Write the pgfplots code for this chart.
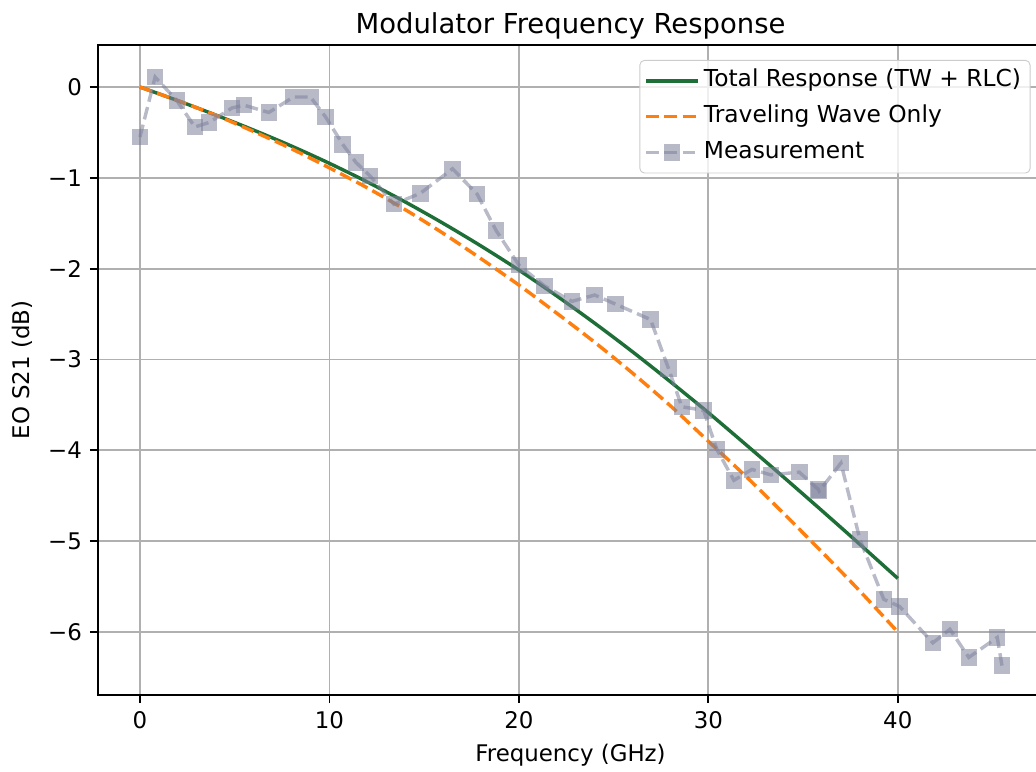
\documentclass[border=0pt]{standalone}
\usepackage{fontspec}
\setmainfont{DejaVu Sans}
\usepackage{pgfplots}
\pgfplotsset{compat=1.18}

\definecolor{twcol}{RGB}{255,127,14}
\definecolor{totcol}{RGB}{30,110,55}
\definecolor{meascol}{RGB}{125,129,155}
\definecolor{gridcol}{RGB}{176,176,176}
\definecolor{legcol}{RGB}{204,204,204}

\begin{document}
\begin{tikzpicture}
\begin{axis}[
    at={(0,0)}, anchor=south west,
    scale only axis,
    width=413pt, height=284pt,
    xmin=-2.218, xmax=47.67,
    ymin=-6.694, ymax=0.462,
    xtick={0,10,20,30,40},
    ytick={-6,-5,-4,-3,-2,-1,0},
    yticklabels={−6,−5,−4,−3,−2,−1,0},
    xtick pos=bottom, ytick pos=left,
    tick align=outside,
    major tick length=3.5pt,
    tick style={black, line width=0.8pt},
    axis line style={line width=0.8pt},
    grid=major,
    grid style={gridcol, line width=0.8pt},
    ticklabel style={font=\fontsize{10}{12}\selectfont},
    /pgf/number format/assume math mode=true,
    title={Modulator Frequency Response},
    title style={font=\fontsize{12}{14}\selectfont, at={(0.5,1)}, anchor=base, yshift=-1pt},
    xlabel={Frequency (GHz)},
    ylabel={EO S21 (dB)},
    label style={font=\fontsize{10}{12}\selectfont},
    legend cell align=left,
    legend style={
        at={(1,1)}, anchor=north east, xshift=-5.5pt, yshift=-6.5pt,
        draw=legcol, rounded corners=2pt, fill=white, fill opacity=0.8, text opacity=1,
        font=\fontsize{10.2}{12}\selectfont,
        nodes={inner sep=2pt, text height=7.5pt, text depth=2.5pt},
        row sep=1.6pt, inner xsep=2pt, inner ysep=2pt,
        /tikz/every even column/.append style={column sep=8.5pt},
    },
    legend image code/.code={
        \draw[mark repeat=2,mark phase=2,#1] plot coordinates {(0pt,0pt) (11.25pt,0pt) (22.5pt,0pt)};
    },
]

\addplot[totcol, line width=1.5pt, smooth] coordinates {
    (0,0) (2,-0.150) (4,-0.308) (6,-0.474) (8,-0.650) (10,-0.840)
    (12,-1.045) (14,-1.265) (16,-1.500) (18,-1.750) (20,-2.015)
    (22,-2.300) (24,-2.600) (26,-2.915) (28,-3.245) (30,-3.585)
    (32,-3.940) (34,-4.300) (36,-4.665) (38,-5.035) (40,-5.410)
};
\addlegendentry{Total Response (TW + RLC)}

\addplot[twcol, line width=1.5pt, smooth, dash pattern=on 5.55pt off 2.4pt] coordinates {
    (0,0) (2,-0.15) (4,-0.31) (6,-0.49) (8,-0.68) (10,-0.89)
    (12,-1.11) (14,-1.35) (16,-1.61) (18,-1.89) (20,-2.18)
    (22,-2.49) (24,-2.81) (26,-3.15) (28,-3.51) (30,-3.90)
    (32,-4.29) (34,-4.70) (36,-5.12) (38,-5.55) (40,-6.00)
};
\addlegendentry{Traveling Wave Only}

\addplot[meascol, opacity=0.55, line width=1.5pt, dash pattern=on 5.55pt off 2.4pt,
    mark=square*, mark size=3.6pt,
    mark options={solid, fill=meascol, draw opacity=0, line width=0pt}] coordinates {
    (0,-0.55) (0.8,0.11) (1.95,-0.15) (2.9,-0.44) (3.65,-0.39)
    (4.86,-0.23) (5.5,-0.20) (6.8,-0.28) (8.1,-0.11) (9.0,-0.11)
    (9.8,-0.33) (10.7,-0.63) (11.4,-0.83) (12.15,-0.98) (13.4,-1.29)
    (14.8,-1.17) (16.5,-0.90) (17.8,-1.18) (18.8,-1.58) (20.0,-1.96)
    (21.35,-2.19) (22.8,-2.36) (24.0,-2.29) (25.1,-2.39) (26.95,-2.56)
    (27.9,-3.10) (28.6,-3.52) (29.75,-3.56) (30.45,-3.99) (31.35,-4.33)
    (32.3,-4.21) (33.3,-4.27) (34.8,-4.24) (35.8,-4.43) (35.85,-4.45)
    (37.0,-4.14) (38.0,-4.98) (39.26,-5.64) (40.1,-5.72) (41.85,-6.12)
    (42.75,-5.97) (43.75,-6.28) (45.25,-6.06) (45.5,-6.37)
};
\addlegendentry{Measurement}

\end{axis}
\pgfresetboundingbox
\useasboundingbox (-42.8pt,-33.6pt) rectangle (409.9pt,303.7pt);
\end{tikzpicture}
\end{document}
